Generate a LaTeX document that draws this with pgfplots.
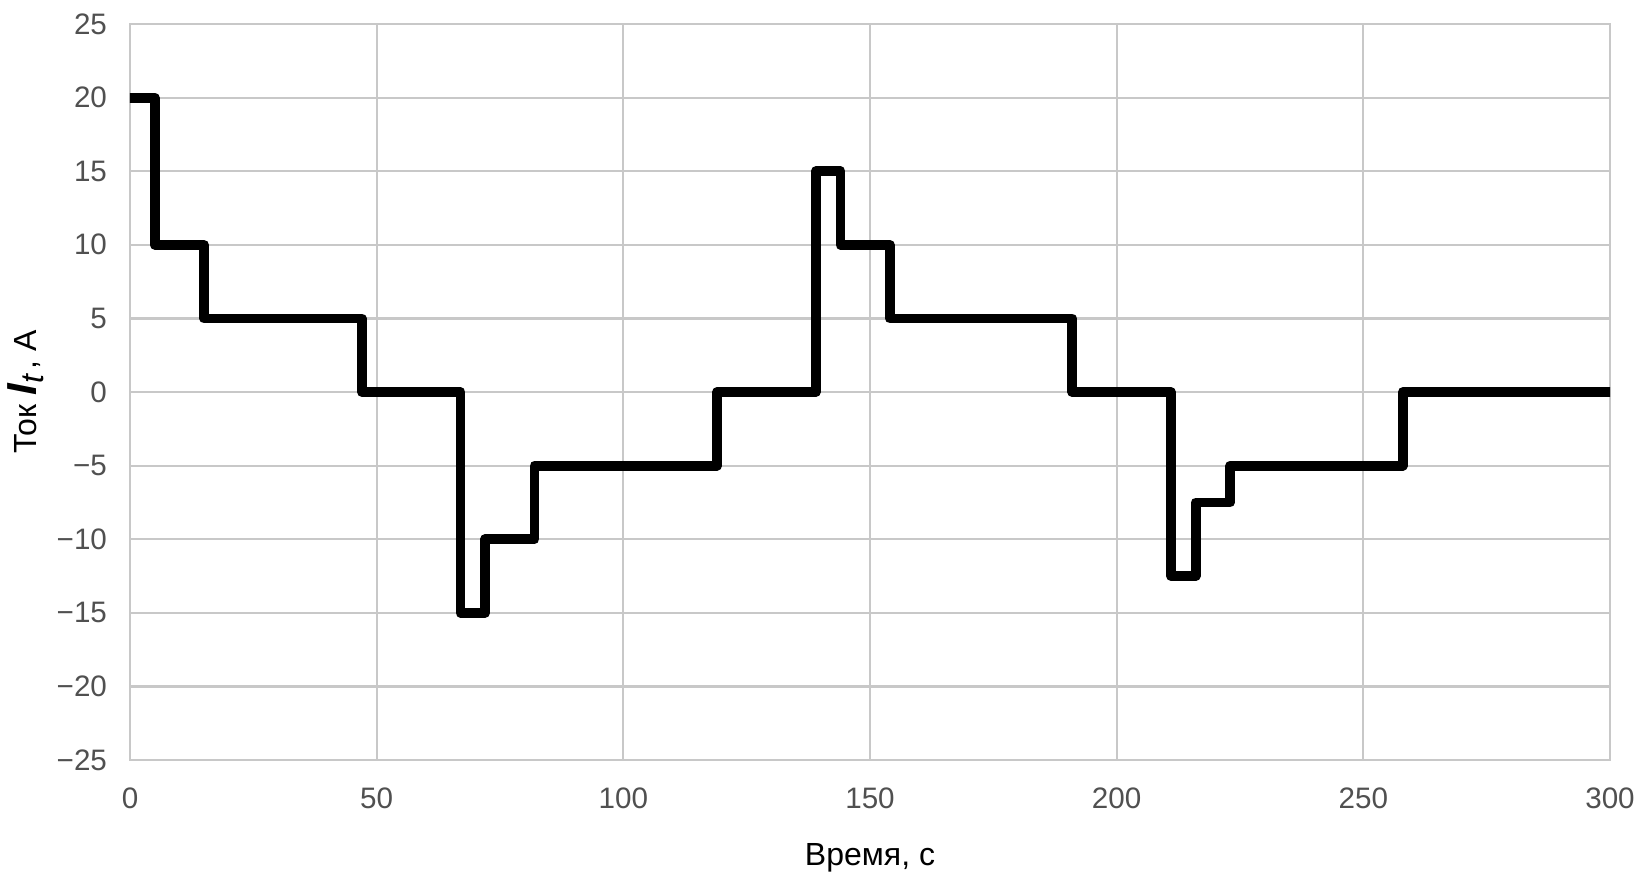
\documentclass[border=0pt]{standalone}
\usepackage{pgfplots}
\pgfplotsset{compat=1.18}
\usepackage{fontspec}
\setmainfont{Liberation Sans}
\definecolor{gridc}{RGB}{200,200,200}
\definecolor{tickc}{RGB}{80,80,80}
\begin{document}
\begin{tikzpicture}
\begin{axis}[
  at={(0,0)}, anchor=south west,
  scale only axis,
  width=740pt, height=368pt,
  xmin=0, xmax=300, ymin=-25, ymax=25,
  xtick={0,50,...,300}, ytick={-25,-20,...,25},
  grid=major,
  major grid style={gridc, line width=1.1pt},
  axis line style={gridc, line width=1.1pt},
  tick style={draw=none},
  /pgf/number format/assume math mode=true,
  ticklabel style={font=\fontsize{14.8}{15}\selectfont, text=tickc},
  yticklabel={\ifdim\tick pt<0pt −\pgfmathparse{-\tick}\pgfmathprintnumber{\pgfmathresult}\else\pgfmathprintnumber{\tick}\fi},
  xticklabel style={anchor=center, yshift=-19pt},
  yticklabel style={anchor=east, xshift=-8pt},
  xlabel={Время, с},
  ylabel={Ток {\bfseries\itshape\fontsize{21}{21}\selectfont I}{\itshape\raisebox{-0.4ex}{t}}\,, А},
  label style={font=\fontsize{16}{17}\selectfont},
  xlabel style={at={(axis description cs:0.5,-0.133)}, anchor=center},
  ylabel style={at={(axis description cs:-0.0704,0.5)}, anchor=center},
]
\addplot[const plot, black, line width=4.9pt, line join=round, line cap=round] coordinates {
(0,20)(5,10)(15,5)(47,0)(67,-15)(72,-10)(82,-5)(119,0)(139,15)(144,10)(154,5)(191,0)(211,-12.5)(216,-7.5)(223,-5)(258,0)(300,0)
};
\end{axis}
\pgfresetboundingbox
\path (-65pt,-57pt) rectangle (756pt,380pt);
\end{tikzpicture}
\end{document}
